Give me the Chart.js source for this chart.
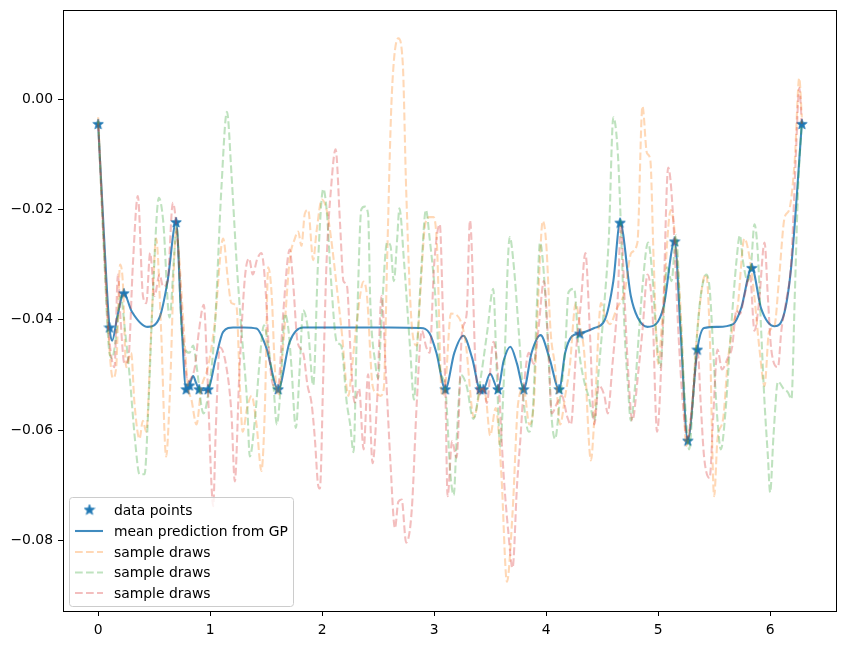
<!DOCTYPE html>
<html>
<head>
<meta charset="utf-8">
<script src="https://cdn.jsdelivr.net/npm/chart.js@4/dist/chart.umd.min.js"></script>
<style>
  html, body { margin: 0; padding: 0; background: #fff; }
  canvas { display: block; }
</style>
</head>
<body>
<canvas id="gpChart" width="847" height="647"></canvas>
<script>
// observed points
const pointsX = [0, 0.101, 0.229, 0.696, 0.786, 0.815, 0.902, 0.982, 1.607, 3.1, 3.41, 3.44, 3.57, 3.8, 4.116, 4.3, 4.66, 5.147, 5.265, 5.35, 5.836, 6.283];
const pointsY = [-0.0045, -0.0414, -0.0352, -0.0223, -0.0526, -0.0519, -0.0526, -0.0526, -0.0526, -0.0526, -0.0526, -0.0526, -0.0526, -0.0526, -0.0526, -0.0425, -0.0224, -0.0258, -0.0619, -0.0454, -0.0306, -0.0045];

// mean prediction
const meanX = [0, 0.05, 0.101, 0.125, 0.17, 0.229, 0.3, 0.443, 0.548, 0.62, 0.696, 0.74, 0.786, 0.815, 0.848, 0.875, 0.902, 0.94, 0.982, 1.05, 1.116, 1.205, 1.3, 1.414, 1.5, 1.607, 1.71, 1.83, 2.2, 2.6, 2.875, 2.96, 3.02, 3.1, 3.18, 3.26, 3.34, 3.41, 3.44, 3.5, 3.57, 3.62, 3.68, 3.74, 3.8, 3.87, 3.95, 4.03, 4.116, 4.17, 4.23, 4.3, 4.43, 4.52, 4.6, 4.66, 4.756, 4.815, 4.905, 4.98, 5.05, 5.147, 5.2, 5.265, 5.35, 5.41, 5.53, 5.67, 5.74, 5.836, 5.92, 6.04, 6.13, 6.19, 6.283];
const meanY = [-0.0045, -0.024, -0.0414, -0.0438, -0.0395, -0.0352, -0.0385, -0.0413, -0.0396, -0.033, -0.0223, -0.039, -0.0526, -0.0519, -0.0502, -0.0515, -0.0526, -0.0528, -0.0526, -0.047, -0.0422, -0.0414, -0.0414, -0.0416, -0.045, -0.0526, -0.044, -0.0414, -0.0414, -0.0414, -0.0415, -0.0425, -0.046, -0.0526, -0.046, -0.0429, -0.047, -0.0526, -0.0526, -0.0498, -0.0526, -0.0475, -0.0449, -0.048, -0.0526, -0.046, -0.0428, -0.047, -0.0526, -0.046, -0.043, -0.0425, -0.0415, -0.0402, -0.033, -0.0224, -0.0357, -0.0395, -0.0413, -0.0408, -0.0375, -0.0258, -0.042, -0.0619, -0.0454, -0.0415, -0.0413, -0.0408, -0.038, -0.0306, -0.038, -0.0412, -0.0385, -0.03, -0.0045];

// sample draws, [x, y]
const drawOrange = [[0,-0.0033],[0.05,-0.025],[0.101,-0.0454],[0.131,-0.0506],[0.161,-0.0486],[0.196,-0.03],[0.22,-0.0331],[0.25,-0.0486],[0.295,-0.046],[0.324,-0.0551],[0.369,-0.0616],[0.399,-0.0583],[0.429,-0.0603],[0.473,-0.0422],[0.518,-0.0253],[0.5625,-0.0422],[0.607,-0.0648],[0.637,-0.0551],[0.696,-0.024],[0.756,-0.0389],[0.8,-0.0519],[0.833,-0.0545],[0.878,-0.059],[0.92,-0.0525],[0.98,-0.0486],[1.04,-0.0408],[1.116,-0.0253],[1.16,-0.0331],[1.19,-0.037],[1.235,-0.0376],[1.265,-0.0519],[1.29,-0.0603],[1.33,-0.056],[1.37,-0.0538],[1.414,-0.059],[1.458,-0.0674],[1.49,-0.055],[1.518,-0.0305],[1.55,-0.0357],[1.577,-0.0486],[1.607,-0.0538],[1.652,-0.0447],[1.71,-0.0292],[1.756,-0.0253],[1.786,-0.024],[1.815,-0.0266],[1.845,-0.0208],[1.875,-0.0201],[1.92,-0.0292],[1.95,-0.024],[1.997,-0.0182],[2.04,-0.0201],[2.08,-0.0253],[2.13,-0.034],[2.174,-0.042],[2.235,-0.0538],[2.26,-0.0499],[2.307,-0.0408],[2.37,-0.0331],[2.4,-0.0357],[2.45,-0.0519],[2.48,-0.0532],[2.52,-0.0538],[2.55,-0.0525],[2.58,-0.0292],[2.62,-0.0001],[2.68,0.011],[2.72,0.0064],[2.75,-0.0163],[2.8,-0.041],[2.845,-0.0447],[2.875,-0.0357],[2.92,-0.0227],[2.96,-0.0214],[2.994,-0.0214],[3.024,-0.026],[3.07,-0.0538],[3.1,-0.0519],[3.15,-0.0389],[3.22,-0.0396],[3.28,-0.044],[3.355,-0.0577],[3.42,-0.0525],[3.46,-0.0538],[3.5,-0.061],[3.55,-0.056],[3.6,-0.068],[3.65,-0.0875],[3.7,-0.075],[3.75,-0.0551],[3.8,-0.0525],[3.85,-0.059],[3.89,-0.055],[3.93,-0.0357],[3.97,-0.0221],[4.0,-0.026],[4.04,-0.0422],[4.08,-0.0486],[4.125,-0.059],[4.17,-0.0538],[4.21,-0.0486],[4.265,-0.037],[4.3,-0.0408],[4.34,-0.046],[4.4,-0.0655],[4.43,-0.058],[4.49,-0.037],[4.53,-0.0396],[4.57,-0.0408],[4.63,-0.038],[4.7,-0.035],[4.76,-0.0279],[4.815,-0.026],[4.86,-0.0013],[4.9,-0.0098],[4.93,-0.011],[4.96,-0.0292],[5.0,-0.048],[5.04,-0.039],[5.113,-0.0201],[5.17,-0.0292],[5.21,-0.042],[5.25,-0.0629],[5.29,-0.0583],[5.35,-0.042],[5.4,-0.0331],[5.43,-0.0318],[5.46,-0.0422],[5.5,-0.072],[5.53,-0.0616],[5.58,-0.058],[5.62,-0.048],[5.67,-0.0408],[5.71,-0.0376],[5.77,-0.0253],[5.82,-0.0292],[5.86,-0.036],[5.905,-0.0454],[5.95,-0.052],[5.99,-0.0422],[6.04,-0.041],[6.08,-0.0324],[6.13,-0.0214],[6.17,-0.0201],[6.22,-0.011],[6.26,0.0038],[6.283,-0.0033]];

const drawGreen = [[0,-0.004],[0.05,-0.027],[0.101,-0.046],[0.125,-0.047],[0.16,-0.043],[0.2,-0.0357],[0.24,-0.042],[0.28,-0.05],[0.33,-0.062],[0.369,-0.068],[0.414,-0.068],[0.45,-0.055],[0.488,-0.0357],[0.542,-0.0179],[0.58,-0.022],[0.637,-0.0396],[0.68,-0.028],[0.7,-0.023],[0.75,-0.043],[0.815,-0.046],[0.848,-0.0447],[0.88,-0.0486],[0.94,-0.057],[0.98,-0.0538],[1.04,-0.042],[1.1,-0.0163],[1.15,-0.0023],[1.19,-0.0135],[1.235,-0.0292],[1.28,-0.042],[1.33,-0.055],[1.354,-0.0648],[1.4,-0.058],[1.444,-0.047],[1.48,-0.041],[1.52,-0.045],[1.565,-0.0519],[1.595,-0.059],[1.63,-0.0519],[1.667,-0.0389],[1.7,-0.042],[1.726,-0.0486],[1.765,-0.0596],[1.8,-0.0486],[1.83,-0.0383],[1.875,-0.042],[1.92,-0.0519],[1.964,-0.0292],[2.01,-0.0163],[2.04,-0.0201],[2.08,-0.0331],[2.13,-0.044],[2.17,-0.0447],[2.22,-0.0551],[2.25,-0.059],[2.28,-0.064],[2.31,-0.042],[2.35,-0.02],[2.38,-0.0195],[2.41,-0.0208],[2.43,-0.037],[2.475,-0.048],[2.5,-0.0506],[2.53,-0.0396],[2.58,-0.026],[2.61,-0.0266],[2.64,-0.033],[2.67,-0.0253],[2.69,-0.0198],[2.73,-0.0292],[2.786,-0.0454],[2.82,-0.0545],[2.845,-0.046],[2.89,-0.0292],[2.926,-0.0201],[2.96,-0.0253],[3.01,-0.0357],[3.05,-0.0486],[3.1,-0.0525],[3.145,-0.068],[3.175,-0.0718],[3.2,-0.062],[3.24,-0.05],[3.29,-0.052],[3.35,-0.058],[3.42,-0.05],[3.475,-0.042],[3.527,-0.0344],[3.56,-0.05],[3.59,-0.063],[3.62,-0.052],[3.675,-0.025],[3.71,-0.03],[3.755,-0.042],[3.8,-0.055],[3.845,-0.0603],[3.88,-0.057],[3.92,-0.036],[3.945,-0.026],[3.97,-0.0292],[4.01,-0.042],[4.05,-0.058],[4.08,-0.0616],[4.12,-0.055],[4.17,-0.0454],[4.2,-0.035],[4.25,-0.0344],[4.29,-0.045],[4.34,-0.0512],[4.38,-0.054],[4.43,-0.0583],[4.47,-0.049],[4.52,-0.037],[4.56,-0.025],[4.6,-0.0033],[4.64,-0.0098],[4.667,-0.0227],[4.7,-0.042],[4.73,-0.0519],[4.756,-0.0583],[4.79,-0.053],[4.83,-0.042],[4.86,-0.034],[4.91,-0.026],[4.95,-0.0324],[4.98,-0.042],[5.02,-0.0486],[5.05,-0.039],[5.08,-0.0305],[5.12,-0.033],[5.16,-0.0247],[5.2,-0.04],[5.25,-0.058],[5.277,-0.0635],[5.31,-0.055],[5.35,-0.042],[5.38,-0.0357],[5.43,-0.0318],[5.46,-0.0344],[5.5,-0.0486],[5.53,-0.0583],[5.56,-0.0635],[5.6,-0.057],[5.65,-0.042],[5.7,-0.0292],[5.73,-0.0247],[5.756,-0.0292],[5.8,-0.033],[5.83,-0.03],[5.86,-0.0227],[5.89,-0.028],[5.92,-0.042],[5.95,-0.055],[5.98,-0.0648],[6.0,-0.0713],[6.03,-0.061],[6.07,-0.0512],[6.12,-0.0525],[6.16,-0.0532],[6.19,-0.0544],[6.22,-0.0357],[6.25,-0.016],[6.283,-0.004]];

const drawRed = [[0,-0.0045],[0.057,-0.029],[0.086,-0.0402],[0.12,-0.047],[0.146,-0.0486],[0.176,-0.0318],[0.2,-0.04],[0.235,-0.048],[0.27,-0.047],[0.31,-0.03],[0.354,-0.0176],[0.4,-0.0357],[0.43,-0.037],[0.464,-0.0279],[0.503,-0.0357],[0.548,-0.0318],[0.58,-0.034],[0.62,-0.033],[0.667,-0.0188],[0.71,-0.026],[0.756,-0.042],[0.8,-0.0512],[0.83,-0.0506],[0.863,-0.0486],[0.9,-0.042],[0.943,-0.0373],[0.975,-0.05],[1.012,-0.07],[1.027,-0.0738],[1.05,-0.06],[1.086,-0.045],[1.14,-0.048],[1.19,-0.057],[1.22,-0.0693],[1.26,-0.05],[1.31,-0.0324],[1.348,-0.0289],[1.38,-0.0318],[1.42,-0.029],[1.458,-0.0279],[1.49,-0.0331],[1.53,-0.047],[1.565,-0.0519],[1.607,-0.0519],[1.652,-0.0389],[1.71,-0.0273],[1.74,-0.0331],[1.78,-0.044],[1.83,-0.046],[1.87,-0.052],[1.905,-0.0551],[1.935,-0.0616],[1.964,-0.07],[1.98,-0.0706],[2.01,-0.05],[2.04,-0.0292],[2.08,-0.016],[2.12,-0.0091],[2.16,-0.0227],[2.19,-0.033],[2.22,-0.0337],[2.26,-0.0486],[2.29,-0.055],[2.33,-0.0525],[2.37,-0.0635],[2.41,-0.0499],[2.45,-0.066],[2.49,-0.055],[2.53,-0.0357],[2.57,-0.05],[2.61,-0.066],[2.65,-0.0778],[2.68,-0.073],[2.71,-0.0726],[2.75,-0.0804],[2.8,-0.0745],[2.845,-0.055],[2.89,-0.042],[2.93,-0.045],[2.96,-0.046],[3.0,-0.03],[3.05,-0.0227],[3.08,-0.04],[3.1,-0.0525],[3.12,-0.072],[3.16,-0.062],[3.2,-0.065],[3.25,-0.042],[3.29,-0.039],[3.32,-0.022],[3.37,-0.0486],[3.4,-0.0538],[3.44,-0.052],[3.47,-0.0551],[3.53,-0.044],[3.57,-0.05],[3.62,-0.068],[3.66,-0.078],[3.7,-0.085],[3.74,-0.07],[3.77,-0.0616],[3.8,-0.0525],[3.845,-0.046],[3.89,-0.048],[3.93,-0.042],[3.98,-0.033],[4.02,-0.045],[4.05,-0.057],[4.1,-0.055],[4.14,-0.0538],[4.19,-0.0577],[4.22,-0.059],[4.27,-0.045],[4.31,-0.037],[4.35,-0.0279],[4.39,-0.042],[4.43,-0.059],[4.47,-0.0519],[4.52,-0.0538],[4.55,-0.057],[4.59,-0.0486],[4.64,-0.0357],[4.667,-0.0227],[4.7,-0.036],[4.73,-0.0486],[4.77,-0.0583],[4.82,-0.05],[4.86,-0.042],[4.905,-0.0318],[4.95,-0.0389],[4.99,-0.0603],[5.04,-0.042],[5.09,-0.0124],[5.13,-0.0201],[5.18,-0.042],[5.22,-0.0551],[5.26,-0.0616],[5.3,-0.0564],[5.354,-0.046],[5.38,-0.0551],[5.41,-0.0648],[5.46,-0.0687],[5.49,-0.0583],[5.53,-0.0454],[5.57,-0.049],[5.62,-0.047],[5.66,-0.045],[5.7,-0.0383],[5.73,-0.039],[5.77,-0.0357],[5.82,-0.032],[5.86,-0.042],[5.9,-0.037],[5.95,-0.026],[5.98,-0.036],[6.01,-0.0454],[6.07,-0.0486],[6.1,-0.042],[6.14,-0.037],[6.19,-0.029],[6.23,-0.01],[6.26,0.002],[6.283,-0.0045]];

const xTicks = [0, 1, 2, 3, 4, 5, 6];
const yTicks = [0, -0.02, -0.04, -0.06, -0.08];
const legendLabels = ['data points', 'mean prediction from GP', 'sample draws', 'sample draws', 'sample draws'];

const FONT = '"DejaVu Sans", sans-serif';
const BLUE = '#1f77b4';
const MEAN_COLOR = 'rgba(31,119,180,0.85)';
const LW = 2.08;               // 1.5pt at 100 dpi
const dash = [7.7, 3.3];       // matplotlib '--' scaled by line width
const drawColors = ['rgba(255,127,14,0.3)', 'rgba(44,160,44,0.3)', 'rgba(214,39,40,0.3)'];

// filled five point star like matplotlib '*'
function makeStar(size) {
    const c = document.createElement('canvas');
    c.width = size; c.height = size;
    const g = c.getContext('2d');
    const cx = size / 2, cy = size / 2 + 0.5, ro = size / 2 - 0.5, ri = ro * 0.42;
    g.beginPath();
    for (let i = 0; i < 10; i++) {
        const r = i % 2 === 0 ? ro : ri;
        const a = -Math.PI / 2 + i * Math.PI / 5;
        g.lineTo(cx + r * Math.cos(a), cy + r * Math.sin(a));
    }
    g.closePath();
    g.fillStyle = BLUE;
    g.fill();
    g.strokeStyle = BLUE;
    g.lineWidth = 0.8;
    g.stroke();
    return c;
}
const starImg = makeStar(12);

const toXY = arr => arr.map(p => ({ x: p[0], y: p[1] }));

function drawSet(label, arr, color, order) {
    return {
        label: label,
        type: 'line',
        data: toXY(arr),
        borderColor: color,
        borderWidth: LW,
        borderDash: dash,
        pointRadius: 0,
        cubicInterpolationMode: 'monotone',
        fill: false,
        order: order
    };
}

const legendPlugin = {
    id: 'mplLegend',
    afterDraw(chart) {
        const ctx = chart.ctx;
        const area = chart.chartArea;
        ctx.save();
        // frame
        ctx.strokeStyle = '#000';
        ctx.lineWidth = 1;
        ctx.strokeRect(area.left + 0.5, area.top + 0.5, area.right - area.left - 1, area.bottom - area.top);

        // legend box
        const bx = 69.5, by = 497.5, bw = 224, bh = 109, r = 3;
        ctx.beginPath();
        ctx.moveTo(bx + r, by);
        ctx.arcTo(bx + bw, by, bx + bw, by + bh, r);
        ctx.arcTo(bx + bw, by + bh, bx, by + bh, r);
        ctx.arcTo(bx, by + bh, bx, by, r);
        ctx.arcTo(bx, by, bx + bw, by, r);
        ctx.closePath();
        ctx.fillStyle = 'rgba(255,255,255,0.8)';
        ctx.fill();
        ctx.strokeStyle = '#cccccc';
        ctx.lineWidth = 1;
        ctx.stroke();

        const rows = [510, 531, 552, 572.5, 593];
        ctx.font = '13.9px ' + FONT;
        ctx.textBaseline = 'middle';
        legendLabels.forEach((lab, i) => {
            const yy = rows[i];
            if (i === 0) {
                ctx.drawImage(starImg, 89.5 - 6, yy - 6.5);
            } else {
                ctx.beginPath();
                ctx.moveTo(75, yy);
                ctx.lineTo(103, yy);
                ctx.lineWidth = LW;
                if (i === 1) {
                    ctx.setLineDash([]);
                    ctx.strokeStyle = MEAN_COLOR;
                } else {
                    ctx.setLineDash(dash);
                    ctx.strokeStyle = drawColors[i - 2];
                }
                ctx.stroke();
                ctx.setLineDash([]);
            }
            ctx.fillStyle = '#000';
            ctx.fillText(lab, 114, yy + 1);
        });
        ctx.restore();
    }
};

const ctx = document.getElementById('gpChart').getContext('2d');
new Chart(ctx, {
    type: 'scatter',
    data: {
        datasets: [{
            label: 'data points',
            data: pointsX.map((x, i) => ({ x: x, y: pointsY[i] })),
            pointStyle: starImg,
            pointRadius: 6,
            showLine: false,
            order: 5
        }, {
            label: 'mean prediction from GP',
            type: 'line',
            data: meanX.map((x, i) => ({ x: x, y: meanY[i] })),
            borderColor: MEAN_COLOR,
            borderWidth: LW,
            pointRadius: 0,
            cubicInterpolationMode: 'monotone',
            fill: false,
            order: 4
        },
        drawSet('sample draws', drawOrange, drawColors[0], 3),
        drawSet('sample draws', drawGreen, drawColors[1], 2),
        drawSet('sample draws', drawRed, drawColors[2], 1)]
    },
    options: {
        responsive: false,
        animation: false,
        layout: { padding: { top: 10, right: 10, left: 0, bottom: 0 } },
        plugins: { legend: { display: false }, tooltip: { enabled: false } },
        scales: {
            x: {
                type: 'linear',
                min: -0.314,
                max: 6.597,
                afterBuildTicks: s => { s.ticks = xTicks.map(v => ({ value: v })); },
                afterFit: s => { s.height = 36; s.paddingLeft = 0; s.paddingRight = 0; },
                grid: { drawOnChartArea: false, drawTicks: true, tickLength: 5, color: '#000' },
                border: { display: false },
                ticks: {
                    color: '#000',
                    padding: 6,
                    maxRotation: 0,
                    font: { family: FONT, size: 13.9 },
                    callback: v => String(v)
                }
            },
            y: {
                type: 'linear',
                min: -0.0928,
                max: 0.01614,
                afterBuildTicks: s => { s.ticks = yTicks.map(v => ({ value: v })); },
                afterFit: s => { s.width = 63; s.paddingTop = 0; s.paddingBottom = 0; },
                grid: { drawOnChartArea: false, drawTicks: true, tickLength: 5, color: '#000' },
                border: { display: false },
                ticks: {
                    color: '#000',
                    padding: 5,
                    font: { family: FONT, size: 13.9 },
                    callback: v => (v < 0 ? '\u2212' : '') + Math.abs(v).toFixed(2)
                }
            }
        }
    },
    plugins: [legendPlugin]
});
</script>
</body>
</html>
